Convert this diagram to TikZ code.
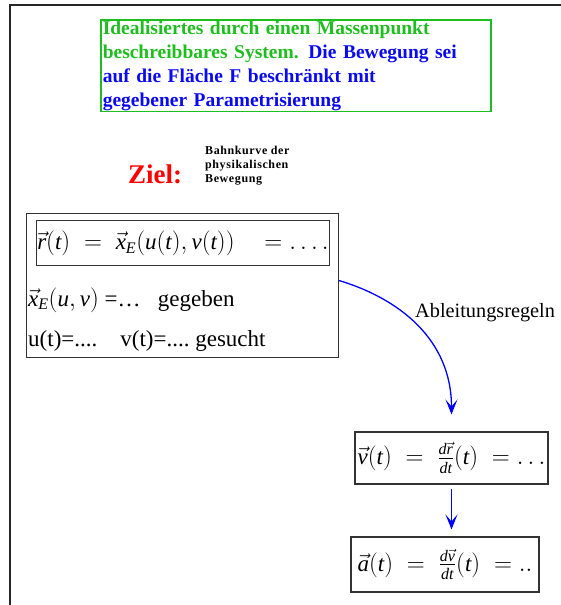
\documentclass[tikz,border=0pt]{standalone}
\usepackage{amsmath}
\usepackage{fontspec}
\setmainfont{Liberation Serif}
\usetikzlibrary{arrows.meta,positioning}
\definecolor{textgreen}{RGB}{30,190,30}
\definecolor{textblue}{RGB}{10,10,240}
\newcommand{\vecit}[1]{\vec{\mathit{#1}}}
\newcommand{\itm}[1]{\mathit{#1}}

\begin{document}
\begin{tikzpicture}[x=1pt,y=-1pt,
  frame/.style={draw=black!80,line width=1.1pt,inner sep=0pt},
  formula/.style={font=\fontsize{23}{27}\selectfont},
  blue arrow/.style={draw=blue,line width=1.3pt,-{Stealth[length=15pt,width=12pt,inset=7pt]}}]
  \useasboundingbox (0,0) rectangle (560,605);
  % outer frame (runs off the page on the right and at the bottom)
  \draw[line width=2pt,black!85] (10,640) -- (10,5) -- (600,5);
  % task statement
  \node[draw=textgreen,line width=1.5pt,anchor=north west,inner xsep=2pt,inner ysep=1pt,
        text width=386pt,align=left,font=\bfseries\fontsize{19.5}{24}\selectfont] (task) at (100,19)
    {\color{textgreen}Idealisiertes durch einen Massenpunkt\\
     beschreibbares System. \color{textblue}Die Bewegung sei\\
     auf die Fläche F beschränkt mit\\
     gegebener Parametrisierung};
  % goal
  \node[anchor=base west,text=red,font=\bfseries\fontsize{27}{30}\selectfont,inner sep=0pt] (ziel) at (128,183) {Ziel:};
  \node[anchor=north west,align=left,inner sep=0pt,
        font=\bfseries\fontsize{12}{14}\selectfont\addfontfeatures{LetterSpace=5}] (goal) at (205,146)
    {Bahnkurve der\\physikalischen\\Bewegung};
  % system box
  \node[frame,anchor=north west,minimum width=312pt,minimum height=144pt] (sys) at (26,213) {};
  \node[frame,formula,anchor=north west,minimum width=293pt,minimum height=45pt] (bahn) at (36,220)
    {$\vecit{r}(\itm{t})\;=\;\vecit{x}_{\itm{E}}(\itm{u}(\itm{t}),\itm{v}(\itm{t}))\quad=\ldots.$};
  \node[formula,anchor=base west,inner sep=0pt] (given) at (28,306)
    {$\vecit{x}_{\itm{E}}(\itm{u},\itm{v})$ =\ldots\ \ \ gegeben};
  \node[formula,anchor=base west,inner sep=0pt] (sought) at (28,346)
    {u(t)=....\ \ \ \ v(t)=....\ gesucht};
  % derivatives
  \node[frame,formula,minimum width=193pt,minimum height=52pt] (vel) at (451.5,458)
    {$\vecit{v}(\itm{t})\;=\;\tfrac{\itm{d}\vecit{r}}{\itm{dt}}(\itm{t})\;=\ldots$};
  \node[frame,formula,minimum width=188pt,minimum height=55pt] (acc) at (445,564.5)
    {$\vecit{a}(\itm{t})\;=\;\tfrac{\itm{d}\vecit{v}}{\itm{dt}}(\itm{t})\;=..$};
  \node[anchor=base west,inner sep=0pt,font=\fontsize{20.3}{24}\selectfont] (rules) at (415,317) {Ableitungsregeln};
  \draw[blue arrow,shorten >=17pt] ([yshift=5pt]sys.east) .. controls +(60,18) and +(0,-92) .. (vel.north);
  \draw[blue arrow,shorten <=4pt,shorten >=7pt] (vel.south) -- (vel.south |- acc.north);
\end{tikzpicture}
\end{document}
